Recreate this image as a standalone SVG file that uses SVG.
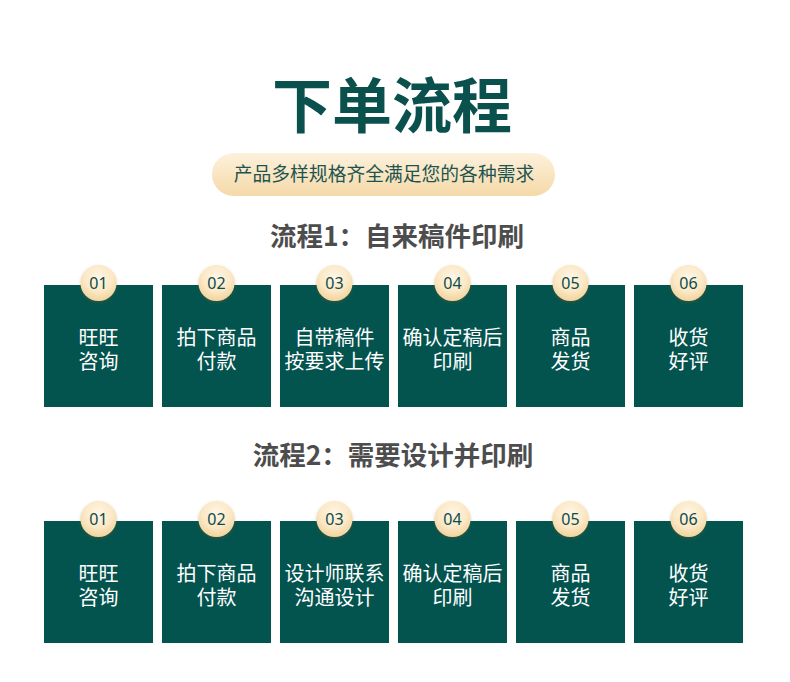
<svg xmlns="http://www.w3.org/2000/svg" width="790" height="682" viewBox="0 0 790 682">
<defs>
<linearGradient id="pill" x1="0" y1="0" x2="0" y2="1"><stop offset="0" stop-color="#fdf1dc"/><stop offset="1" stop-color="#f5d9a8"/></linearGradient>
<radialGradient id="circ" cx="0.5" cy="0.35" r="0.65"><stop offset="0" stop-color="#fff6e6"/><stop offset="0.6" stop-color="#fbe8c6"/><stop offset="1" stop-color="#f2d39c"/></radialGradient>
<filter id="sh" x="-50%" y="-50%" width="200%" height="200%"><feDropShadow dx="0" dy="1.5" stdDeviation="1.5" flood-color="#7a5a20" flood-opacity="0.35"/></filter>
<style>
text{font-family:"Noto Sans CJK SC","Noto Sans",sans-serif;text-anchor:middle}
.box{fill:#03534f}
.num{font-family:"Noto Sans","Open Sans",sans-serif;font-size:16px;fill:#0d4d4a}
.lbl{font-size:20px;fill:#ffffff}
.sec{font-size:26.5px;fill:#4d4d4d;font-weight:700}
</style>
</defs>
<rect width="790" height="682" fill="#ffffff"/>
<text x="392" y="128" font-size="60" font-weight="700" fill="#0a514d">下单流程</text>
<rect x="212" y="153" width="343" height="43" rx="21.5" fill="url(#pill)"/>
<text x="384" y="181" font-size="18.8" fill="#1d5450">产品多样规格齐全满足您的各种需求</text>
<text class="sec" x="397" y="246">流程1：自来稿件印刷</text>
<text class="sec" x="393" y="465">流程2：需要设计并印刷</text>
<g id="connectors"></g>
<g id="r1n1"><rect class="box" x="44" y="285" width="109" height="122"/><circle cx="98.5" cy="283" r="18" fill="url(#circ)" filter="url(#sh)"/><text class="num" x="98.5" y="289">01</text><text class="lbl"><tspan x="98.5" y="345">旺旺</tspan><tspan x="98.5" y="369">咨询</tspan></text></g>
<g id="r1n2"><rect class="box" x="162" y="285" width="109" height="122"/><circle cx="216.5" cy="283" r="18" fill="url(#circ)" filter="url(#sh)"/><text class="num" x="216.5" y="289">02</text><text class="lbl"><tspan x="216.5" y="345">拍下商品</tspan><tspan x="216.5" y="369">付款</tspan></text></g>
<g id="r1n3"><rect class="box" x="280" y="285" width="109" height="122"/><circle cx="334.5" cy="283" r="18" fill="url(#circ)" filter="url(#sh)"/><text class="num" x="334.5" y="289">03</text><text class="lbl"><tspan x="334.5" y="345">自带稿件</tspan><tspan x="334.5" y="369">按要求上传</tspan></text></g>
<g id="r1n4"><rect class="box" x="398" y="285" width="109" height="122"/><circle cx="452.5" cy="283" r="18" fill="url(#circ)" filter="url(#sh)"/><text class="num" x="452.5" y="289">04</text><text class="lbl"><tspan x="452.5" y="345">确认定稿后</tspan><tspan x="452.5" y="369">印刷</tspan></text></g>
<g id="r1n5"><rect class="box" x="516" y="285" width="109" height="122"/><circle cx="570.5" cy="283" r="18" fill="url(#circ)" filter="url(#sh)"/><text class="num" x="570.5" y="289">05</text><text class="lbl"><tspan x="570.5" y="345">商品</tspan><tspan x="570.5" y="369">发货</tspan></text></g>
<g id="r1n6"><rect class="box" x="634" y="285" width="109" height="122"/><circle cx="688.5" cy="283" r="18" fill="url(#circ)" filter="url(#sh)"/><text class="num" x="688.5" y="289">06</text><text class="lbl"><tspan x="688.5" y="345">收货</tspan><tspan x="688.5" y="369">好评</tspan></text></g>
<g id="r2n1"><rect class="box" x="44" y="521" width="109" height="122"/><circle cx="98.5" cy="519" r="18" fill="url(#circ)" filter="url(#sh)"/><text class="num" x="98.5" y="525">01</text><text class="lbl"><tspan x="98.5" y="581">旺旺</tspan><tspan x="98.5" y="605">咨询</tspan></text></g>
<g id="r2n2"><rect class="box" x="162" y="521" width="109" height="122"/><circle cx="216.5" cy="519" r="18" fill="url(#circ)" filter="url(#sh)"/><text class="num" x="216.5" y="525">02</text><text class="lbl"><tspan x="216.5" y="581">拍下商品</tspan><tspan x="216.5" y="605">付款</tspan></text></g>
<g id="r2n3"><rect class="box" x="280" y="521" width="109" height="122"/><circle cx="334.5" cy="519" r="18" fill="url(#circ)" filter="url(#sh)"/><text class="num" x="334.5" y="525">03</text><text class="lbl"><tspan x="334.5" y="581">设计师联系</tspan><tspan x="334.5" y="605">沟通设计</tspan></text></g>
<g id="r2n4"><rect class="box" x="398" y="521" width="109" height="122"/><circle cx="452.5" cy="519" r="18" fill="url(#circ)" filter="url(#sh)"/><text class="num" x="452.5" y="525">04</text><text class="lbl"><tspan x="452.5" y="581">确认定稿后</tspan><tspan x="452.5" y="605">印刷</tspan></text></g>
<g id="r2n5"><rect class="box" x="516" y="521" width="109" height="122"/><circle cx="570.5" cy="519" r="18" fill="url(#circ)" filter="url(#sh)"/><text class="num" x="570.5" y="525">05</text><text class="lbl"><tspan x="570.5" y="581">商品</tspan><tspan x="570.5" y="605">发货</tspan></text></g>
<g id="r2n6"><rect class="box" x="634" y="521" width="109" height="122"/><circle cx="688.5" cy="519" r="18" fill="url(#circ)" filter="url(#sh)"/><text class="num" x="688.5" y="525">06</text><text class="lbl"><tspan x="688.5" y="581">收货</tspan><tspan x="688.5" y="605">好评</tspan></text></g>
</svg>
